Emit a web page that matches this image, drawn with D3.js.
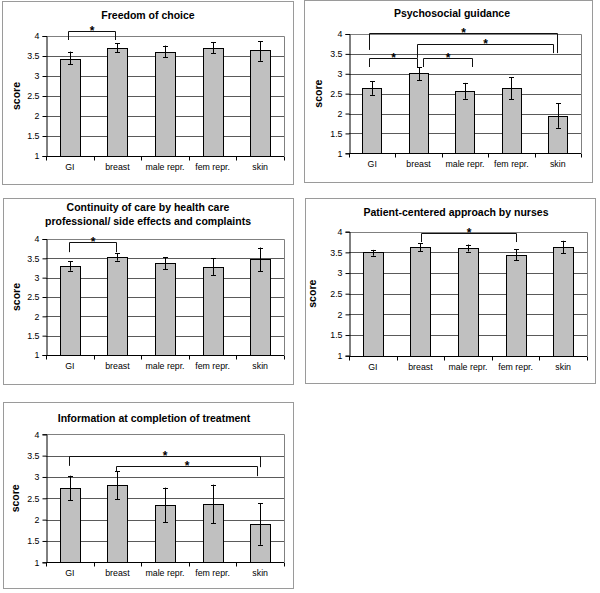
<!DOCTYPE html>
<html>
<head>
<meta charset="utf-8">
<script src="https://cdn.jsdelivr.net/npm/d3@7"></script>
<style>
  html, body { margin: 0; padding: 0; background: #fff; }
  svg { display: block; font-family: "Liberation Sans", Arial, sans-serif; }
</style>
</head>
<body>
<svg id="chart" width="600" height="593"></svg>
<script>
// ---------- data ----------
const categories = ["GI", "breast", "male repr.", "fem repr.", "skin"];
const yTicks = [1, 1.5, 2, 2.5, 3, 3.5, 4];
const yTickLabels = ["1", "1.5", "2", "2.5", "3", "3.5", "4"];
const yLabel = "score";

const titleFreedom = ["Freedom of choice"];
const meanFreedom = [3.43, 3.71, 3.61, 3.70, 3.65];
const lowFreedom  = [3.29, 3.59, 3.47, 3.57, 3.38];
const highFreedom = [3.61, 3.82, 3.76, 3.85, 3.87];
const sigFreedom  = [[0, 1, 4.12, 3.90, 3.90]];

const titlePsycho = ["Psychosocial guidance"];
const meanPsycho = [2.63, 3.01, 2.57, 2.63, 1.95];
const lowPsycho  = [2.47, 2.84, 2.37, 2.36, 1.64];
const highPsycho = [2.81, 3.16, 2.77, 2.91, 2.26];
const sigPsycho  = [[0, 4, 4.03, 3.60, 3.52], [1, 4, 3.74, 3.40, 3.52], [0, 1, 3.40, 3.17, 3.17], [1, 2, 3.40, 3.17, 3.17]];

const titleContinuity = ["Continuity of care by health care", "professional/ side effects and complaints"];
const meanContinuity = [3.31, 3.54, 3.38, 3.27, 3.47];
const lowContinuity  = [3.18, 3.44, 3.22, 3.07, 3.16];
const highContinuity = [3.43, 3.63, 3.53, 3.50, 3.78];
const sigContinuity  = [[0, 1, 3.92, 3.66, 3.66]];

const titleNurses = ["Patient-centered approach by nurses"];
const meanNurses = [3.50, 3.62, 3.60, 3.44, 3.62];
const lowNurses  = [3.42, 3.53, 3.52, 3.31, 3.48];
const highNurses = [3.56, 3.72, 3.69, 3.57, 3.78];
const sigNurses  = [[1, 3, 3.98, 3.75, 3.75]];

const titleInfo = ["Information at completion of treatment"];
const meanInfo = [2.75, 2.81, 2.34, 2.36, 1.89];
const lowInfo  = [2.46, 2.48, 1.94, 1.92, 1.41];
const highInfo = [3.03, 3.14, 2.75, 2.82, 2.38];
const sigInfo  = [[0, 4, 3.49, 3.26, 3.23], [1, 4, 3.26, 3.12, 3.02]];

// ---------- layout ----------
const panels = [
  { title: titleFreedom, mean: meanFreedom, low: lowFreedom, high: highFreedom, sig: sigFreedom,
    frame: [2, 1, 293, 184], px: [46, 284], py: [156, 36], titleX: 148, titleY: 19, labelX: 16,
    sigDx: [[-2, -2]] },
  { title: titlePsycho, mean: meanPsycho, low: lowPsycho, high: highPsycho, sig: sigPsycho,
    frame: [304, 0, 592, 182], px: [349, 581], py: [153.3, 34], titleX: 452, titleY: 17, labelX: 318,
    sigDx: [[-3, -1], [-1.5, -5], [-3, -1.5], [4.5, 7]] },
  { title: titleContinuity, mean: meanContinuity, low: lowContinuity, high: highContinuity, sig: sigContinuity,
    frame: [3, 198, 293, 384], px: [46, 284], py: [355, 239], titleX: 148, titleY: 211, labelX: 16,
    sigDx: [[-1, -1]] },
  { title: titleNurses, mean: meanNurses, low: lowNurses, high: highNurses, sig: sigNurses,
    frame: [305, 198, 595, 383], px: [349, 587], py: [355.7, 231.7], titleX: 456, titleY: 216, labelX: 312,
    sigDx: [[0.5, 0.5]] },
  { title: titleInfo, mean: meanInfo, low: lowInfo, high: highInfo, sig: sigInfo,
    frame: [3, 402, 293, 588], px: [46, 284], py: [562.3, 434.3], titleX: 154, titleY: 422, labelX: 15,
    sigDx: [[-1, 0], [-1, -3]] }
];

const svg = d3.select("#chart");

panels.forEach(p => {
  const g = svg.append("g");
  const [fx0, fy0, fx1, fy1] = p.frame;
  g.append("rect")
    .attr("x", fx0 + 0.5).attr("y", fy0 + 0.5)
    .attr("width", fx1 - fx0).attr("height", fy1 - fy0)
    .attr("fill", "#fff").attr("stroke", "#9a9a9a").attr("stroke-width", 1);

  const x = d3.scaleBand().domain(categories).range(p.px).paddingInner(0.58).paddingOuter(0.29);
  const y = d3.scaleLinear().domain([1, 4]).range(p.py);
  const step = x.step();

  // gridlines
  g.selectAll(".grid").data(yTicks.filter(t => t > 1 && t < 4)).enter().append("line")
    .attr("x1", p.px[0]).attr("x2", p.px[1])
    .attr("y1", d => Math.round(y(d)) + 0.5).attr("y2", d => Math.round(y(d)) + 0.5)
    .attr("stroke", "#5a5a5a").attr("stroke-width", 1);

  // plot area border (top & right)
  g.append("path")
    .attr("d", `M${p.px[0]},${Math.round(y(4)) + 0.5}H${Math.round(p.px[1]) + 0.5}V${Math.round(y(1))}`)
    .attr("fill", "none").attr("stroke", "#808080").attr("stroke-width", 1);

  // bars
  g.selectAll(".bar").data(categories).enter().append("rect")
    .attr("x", d => Math.round(x(d)) + 0.5)
    .attr("y", (d, i) => Math.round(y(p.mean[i])) + 0.5)
    .attr("width", Math.round(x.bandwidth()))
    .attr("height", (d, i) => Math.round(y(1)) - Math.round(y(p.mean[i])))
    .attr("fill", "#c0c0c0").attr("stroke", "#000").attr("stroke-width", 1);

  // error bars
  const eb = g.selectAll(".eb").data(categories).enter().append("g");
  const cx = d => Math.round(x(d) + x.bandwidth() / 2) + 0.5;
  eb.append("line")
    .attr("x1", cx).attr("x2", cx)
    .attr("y1", (d, i) => y(p.low[i])).attr("y2", (d, i) => y(p.high[i]))
    .attr("stroke", "#000").attr("stroke-width", 1);
  eb.append("line")
    .attr("x1", d => cx(d) - 2.5).attr("x2", d => cx(d) + 2.5)
    .attr("y1", (d, i) => Math.round(y(p.low[i])) + 0.5).attr("y2", (d, i) => Math.round(y(p.low[i])) + 0.5)
    .attr("stroke", "#000");
  eb.append("line")
    .attr("x1", d => cx(d) - 2.5).attr("x2", d => cx(d) + 2.5)
    .attr("y1", (d, i) => Math.round(y(p.high[i])) + 0.5).attr("y2", (d, i) => Math.round(y(p.high[i])) + 0.5)
    .attr("stroke", "#000");

  // y axis
  const yAxis = d3.axisLeft(y).tickValues(yTicks).tickSize(4).tickPadding(3)
    .tickFormat((d, i) => yTickLabels[i]);
  const ya = g.append("g").attr("transform", `translate(${Math.round(p.px[0]) + 0.5},0)`).call(yAxis);
  ya.select(".domain").attr("stroke", "#000");
  ya.selectAll(".tick line").attr("stroke", "#000");
  ya.selectAll(".tick text").attr("font-size", 8.8).attr("fill", "#000")
    .attr("font-family", '"Liberation Sans", Arial, sans-serif');

  // x axis with ticks between categories
  const y0 = Math.round(y(1)) + 0.5;
  g.append("line").attr("x1", p.px[0]).attr("x2", p.px[1]).attr("y1", y0).attr("y2", y0).attr("stroke", "#000");
  g.selectAll(".xt").data(d3.range(categories.length + 1)).enter().append("line")
    .attr("x1", k => Math.round(p.px[0] + k * step) + 0.5).attr("x2", k => Math.round(p.px[0] + k * step) + 0.5)
    .attr("y1", y0).attr("y2", y0 + 4).attr("stroke", "#000");
  g.selectAll(".xl").data(categories).enter().append("text")
    .attr("x", d => x(d) + x.bandwidth() / 2).attr("y", y0 + 13)
    .attr("text-anchor", "middle").attr("font-size", 8.8).attr("fill", "#000")
    .text(d => d);

  // title
  const t = g.append("text").attr("x", p.titleX).attr("y", p.titleY)
    .attr("text-anchor", "middle").attr("font-size", 10.5).attr("font-weight", "bold").attr("fill", "#000");
  p.title.forEach((line, i) => t.append("tspan").attr("x", p.titleX).attr("dy", i === 0 ? 0 : 13.5).text(line));

  // y label
  const ly = (p.py[0] + p.py[1]) / 2;
  g.append("text").attr("transform", `translate(${p.labelX + 4},${ly}) rotate(-90)`)
    .attr("text-anchor", "middle").attr("font-size", 10.5).attr("font-weight", "bold").attr("fill", "#000")
    .text(yLabel);

  // significance brackets
  p.sig.forEach((s, k) => {
    const [a, b, lvl, ea, ebv] = s;
    const dx = p.sigDx[k];
    const xa = Math.round(x(categories[a]) + x.bandwidth() / 2 + dx[0]) + 0.5;
    const xb = Math.round(x(categories[b]) + x.bandwidth() / 2 + dx[1]) + 0.5;
    const yl = Math.round(y(lvl)) + 0.5;
    g.append("path")
      .attr("d", `M${xa},${y(ea)}V${yl}H${xb}V${y(ebv)}`)
      .attr("fill", "none").attr("stroke", "#111").attr("stroke-width", 1);
    g.append("text").attr("x", (xa + xb) / 2).attr("y", yl + 3)
      .attr("text-anchor", "middle").attr("font-size", 12).attr("font-weight", "bold").attr("fill", "#000")
      .text("*");
  });
});
</script>
</body>
</html>
